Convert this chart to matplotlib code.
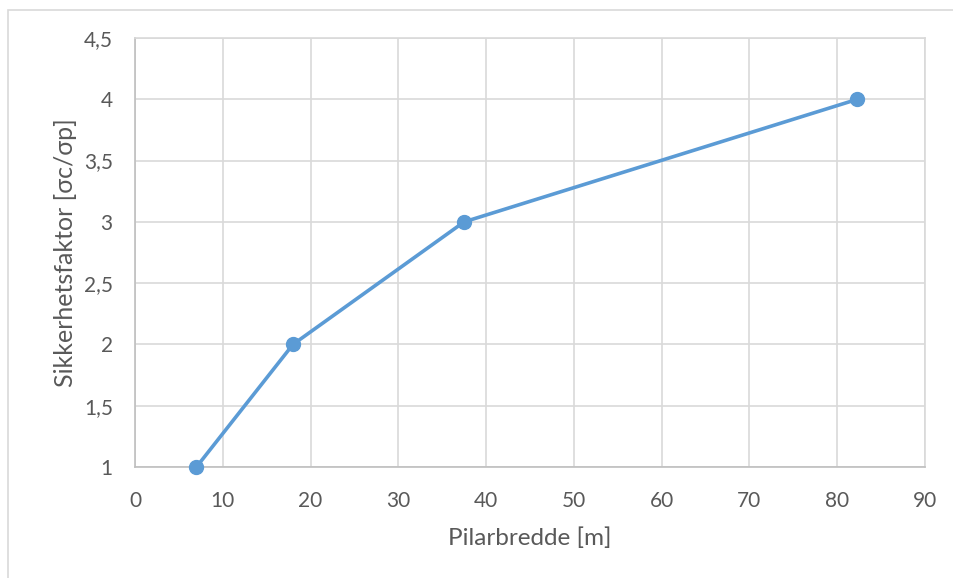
import matplotlib
matplotlib.use("Agg")
import matplotlib.pyplot as plt
from matplotlib.ticker import FuncFormatter, MultipleLocator
from matplotlib.patches import Rectangle

# pillar width vs. safety factor
pilarbredde = [7, 18, 37.5, 82.3]
sikkerhetsfaktor = [1, 2, 3, 4]

plt.rcParams['font.family'] = ['Lato', 'DejaVu Sans']
text_col = '#595959'
grid_col = '#d9d9d9'

fig = plt.figure(figsize=(9.54, 5.78), dpi=100)
# chart area border
fig.patches.append(Rectangle((8 / 954, -0.01), 1.0, (578 - 10) / 578 + 0.01,
                             transform=fig.transFigure, fill=False,
                             edgecolor='#d9d9d9', linewidth=1.2))
ax = fig.add_axes([135 / 954, (578 - 467) / 578, 790 / 954, 429 / 578])

ax.plot(pilarbredde, sikkerhetsfaktor, color='#5b9bd5', linewidth=2.6,
        marker='o', markersize=10, zorder=3, clip_on=False)

ax.set_xlim(0, 90)
ax.set_ylim(1, 4.5)
ax.xaxis.set_major_locator(MultipleLocator(10))
ax.yaxis.set_major_locator(MultipleLocator(0.5))

# comma as decimal separator
fmt = FuncFormatter(lambda v, p: ('%g' % v).replace('.', ','))
ax.xaxis.set_major_formatter(fmt)
ax.yaxis.set_major_formatter(fmt)

ax.grid(True, color=grid_col, linewidth=1.2)
ax.set_axisbelow(True)
for side in ['top', 'right', 'left', 'bottom']:
    ax.spines[side].set_color(grid_col)
    ax.spines[side].set_linewidth(1.2)
ax.spines['left'].set_color('#bfbfbf')
ax.spines['bottom'].set_color('#bfbfbf')

ax.tick_params(length=0, labelsize=15, colors=text_col)
ax.tick_params(axis='x', pad=17)
ax.tick_params(axis='y', pad=16)

ax.set_xlabel('Pilarbredde [m]', fontsize=17.5, color=text_col, va='center')
ax.set_ylabel('Sikkerhetsfaktor [σc/σp]', fontsize=18, color=text_col, va='center')
ax.xaxis.set_label_coords(0.5, (467 - 538) / 429)
ax.yaxis.set_label_coords((66 - 135) / 790, 0.5)

fig.savefig('out.png', dpi=100)
